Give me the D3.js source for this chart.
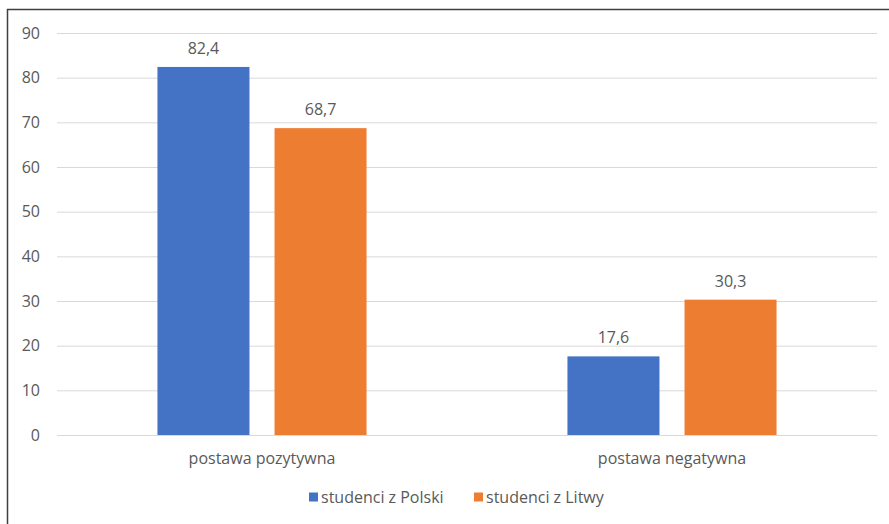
<!DOCTYPE html>
<html>
<head>
<meta charset="utf-8">
<script src="https://cdn.jsdelivr.net/npm/d3@7"></script>
<style>
  body { margin: 0; background: #fff; }
  svg text { font-family: "Open Sans", "Noto Sans", sans-serif; fill: #595959; }
</style>
</head>
<body>
<div id="chart"></div>
<script>
// data
const categories = ["postawa pozytywna", "postawa negatywna"];
const seriesNames = ["studenci z Polski", "studenci z Litwy"];
const polska = [82.4, 17.6];
const litwa = [68.7, 30.3];
const yTicks = [0, 10, 20, 30, 40, 50, 60, 70, 80, 90];
const colors = ["#4472c4", "#ed7d31"];

const width = 889, height = 524;
const margin = { top: 33, right: 12, bottom: 89, left: 57 };
const fontSize = "16px";

const svg = d3.select("#chart").append("svg")
  .attr("width", width)
  .attr("height", height);

// outer frame (only top and left edges visible in the crop)
svg.append("path")
  .attr("d", `M7.5,${height} V9.5 H${width}`)
  .attr("fill", "none")
  .attr("stroke", "#3f3f3f")
  .attr("stroke-width", 1.5);

const y = d3.scaleLinear().domain([0, 90]).range([height - margin.bottom, margin.top]);
const x0 = d3.scaleBand().domain(categories)
  .range([margin.left, width - margin.right])
  .paddingInner(0.49).paddingOuter(0.245);
const x1 = d3.scaleBand().domain(seriesNames)
  .range([0, x0.bandwidth()])
  .paddingInner(0.214);

// gridlines + y labels
const yAxis = d3.axisLeft(y)
  .tickValues(yTicks)
  .tickSize(-(width - margin.left - margin.right))
  .tickPadding(17)
  .tickFormat(d => d);
const yG = svg.append("g")
  .attr("transform", `translate(${margin.left},0)`)
  .call(yAxis);
yG.select(".domain").remove();
yG.selectAll(".tick line").attr("stroke", "#d9d9d9").attr("stroke-width", 1);
yG.selectAll(".tick text").style("font-size", fontSize).attr("fill", "#595959");

const rows = categories.map((c, i) => ({
  cat: c,
  values: [
    { name: seriesNames[0], v: polska[i], color: colors[0] },
    { name: seriesNames[1], v: litwa[i], color: colors[1] },
  ],
}));

const groups = svg.append("g").selectAll("g")
  .data(rows)
  .join("g")
  .attr("transform", d => `translate(${x0(d.cat)},0)`);

groups.selectAll("rect")
  .data(d => d.values)
  .join("rect")
  .attr("x", d => x1(d.name))
  .attr("y", d => y(d.v))
  .attr("width", x1.bandwidth())
  .attr("height", d => y(0) - y(d.v))
  .attr("fill", d => d.color);

groups.selectAll(".val")
  .data(d => d.values)
  .join("text")
  .attr("class", "val")
  .attr("x", d => x1(d.name) + x1.bandwidth() / 2)
  .attr("y", d => y(d.v) - 13)
  .attr("text-anchor", "middle")
  .style("font-size", fontSize)
  .text(d => d3.format(".1f")(d.v).replace(".", ","));

// category labels
const xAxis = d3.axisBottom(x0).tickSize(0).tickPadding(18);
const xG = svg.append("g")
  .attr("transform", `translate(0,${y(0)})`)
  .call(xAxis);
xG.select(".domain").attr("stroke", "#d9d9d9");
xG.selectAll(".tick text").style("font-size", fontSize).attr("fill", "#595959");

// legend
const legendX = [309, 474];
const legend = svg.append("g").selectAll("g")
  .data(seriesNames)
  .join("g")
  .attr("transform", (d, i) => `translate(${legendX[i]},497)`);
legend.append("rect")
  .attr("x", 0).attr("y", -4.5)
  .attr("width", 9).attr("height", 9)
  .attr("fill", (d, i) => colors[i]);
legend.append("text")
  .attr("x", 12)
  .attr("dy", "0.35em")
  .style("font-size", fontSize)
  .text(d => d);
</script>
</body>
</html>
